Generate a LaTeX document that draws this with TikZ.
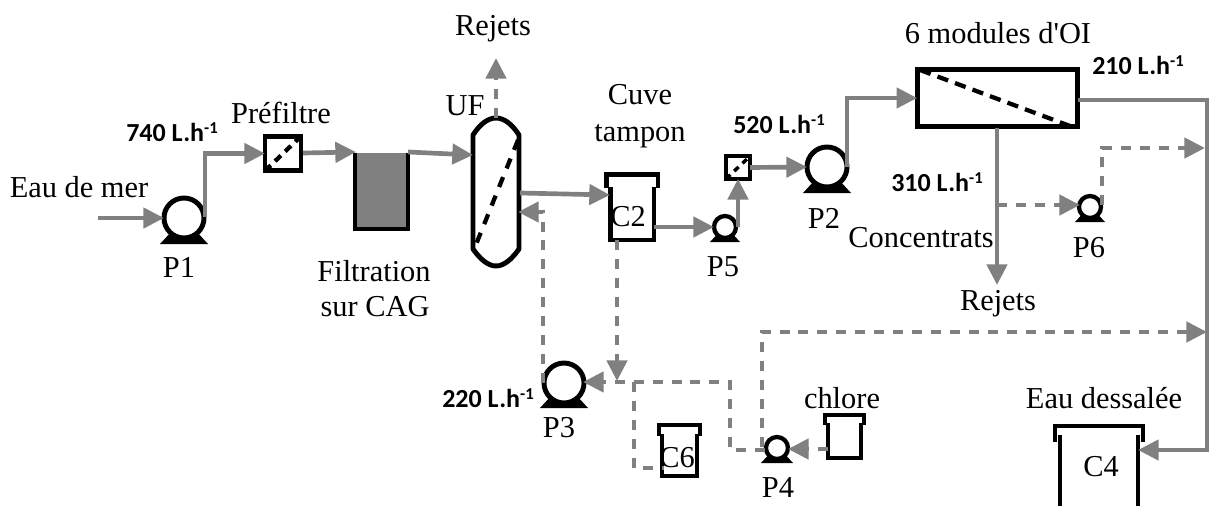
\documentclass[tikz,border=0pt]{standalone}
\usepackage{fontspec}
\setmainfont{Liberation Serif}
\newfontfamily\flowfont{Carlito}
\usetikzlibrary{arrows.meta}
\definecolor{flowgray}{HTML}{808080}
\newcommand\ratesup{\raisebox{0.62ex}{\fontsize{12.5}{13}\selectfont -1}}
\tikzset{
  lab/.style={font=\fontsize{22.8}{26}\selectfont,inner sep=0pt,outer sep=0pt},
  rate/.style={font=\flowfont\bfseries\fontsize{19.5}{24}\selectfont,inner sep=0pt,outer sep=0pt},
  blk/.style={draw=black,line width=3.7pt,line join=miter},
  bigpump/.style={circle,draw=black,fill=white,line width=3.7pt,minimum size=30pt,inner sep=0pt,outer sep=0pt},
  smallpump/.style={circle,draw=black,fill=white,line width=3.2pt,minimum size=16.5pt,inner sep=0pt,outer sep=0pt},
  boxnode/.style={rectangle,draw=black,line width=3.7pt,inner sep=0pt,outer sep=0pt},
  memb/.style={draw=black,line width=3.2pt,dash pattern=on 8pt off 5pt},
  flow/.style={draw=flowgray,line width=3.5pt,line join=miter},
  flowa/.style={flow,-{Triangle[length=15.5pt,width=15pt]}},
  dflow/.style={flow,dash pattern=on 7.5pt off 6.7pt},
  dflowa/.style={dflow,-{Triangle[length=15.5pt,width=15pt]}},
}
% name, x, y, half-width of the base, drop of the base, kind
\newcommand\mypump[6]{%
  \begin{scope}[shift={(#2,#3)}]
    \fill[black] (-#4,#5) -- (-#4+12,#5-13) -- (#4-12,#5-13) -- (#4,#5) -- cycle;
  \end{scope}
  \node[#6] (#1) at (#2,#3) {};
}
% name, x left wall, x right wall, y top of walls, y bottom, lid overhang, lid y, lip bottom y
\newcommand\mytank[8]{%
  \node[inner sep=0pt,outer sep=0pt,minimum width={(#3-#2)*0.75pt},minimum height={(#5-#4)*0.75pt}] (#1) at ({(#2+#3)/2},{(#4+#5)/2}) {};
  \draw[blk] (#1.north west) -- (#1.south west) -- (#1.south east) -- (#1.north east);
  \draw[blk] ({#2-#6},#8) -- ({#2-#6},#7) -- ({#3+#6},#7) -- ({#3+#6},#8);
}
\begin{document}
\begin{tikzpicture}[x=0.75pt,y=-0.75pt]
\useasboundingbox (0,0) rectangle (1209,506);

% --- equipment
\mypump{p1}{184}{218}{24}{26}{bigpump}
\mypump{p2}{827}{167}{24}{26}{bigpump}
\mypump{p3}{564}{383}{24}{25}{bigpump}
\mypump{p4}{777}{448}{16}{15}{smallpump}
\mypump{p5}{725}{227}{15}{15}{smallpump}
\mypump{p6}{1090}{207}{15}{15}{smallpump}

\node[boxnode,minimum width=27pt,minimum height=26pt] (pf) at (283,153.5) {};
\draw[memb,dash pattern=on 6pt off 4.5pt] (pf.south west) -- (pf.north east);
\node[boxnode,line width=2.8pt,minimum width=18pt,minimum height=17pt] (pf2) at (738,167.5) {};
\draw[memb,line width=2.6pt,dash pattern=on 4.5pt off 4pt] (pf2.south west) -- (pf2.north east);

\node[fill=flowgray,inner sep=0pt,outer sep=0pt,minimum width=39.75pt,minimum height=57pt] (cag) at (381.5,191) {};
\draw[blk] (cag.north west) -- (cag.south west) -- (cag.south east) -- (cag.north east);

\node[inner sep=0pt,outer sep=0pt,minimum width=34.5pt,minimum height=111pt] (uf) at (496,192) {};
\draw[blk,line join=round] (473,135) .. controls (480,124) and (488,118) .. (496,118)
   .. controls (504,118) and (512,124) .. (519,135) -- (519,249)
   .. controls (512,259) and (504,266) .. (496,266)
   .. controls (488,266) and (480,259) .. (473,249) -- cycle;
\coordinate (ufmem1) at (518,140);
\coordinate (ufmem2) at (475,247);
\draw[memb,dash pattern=on 8pt off 7pt] (ufmem1) -- (ufmem2);

\mytank{c2}{610.5}{654}{187}{240}{4}{174.5}{188}
\mytank{c6}{662}{697}{434}{476}{3}{425}{436}
\mytank{clt}{828}{861}{423}{458}{3}{415}{425}
\mytank{c4}{1060}{1138}{435}{520}{5}{426}{442}

\node[boxnode,minimum width=120.5pt,minimum height=43pt] (oi) at (997.5,98) {};
\coordinate (oimem1) at (920,70);
\coordinate (oimem2) at (1070,126);
\draw[memb,dash pattern=on 8.5pt off 5.5pt] (oimem1) -- (oimem2);

% --- free ends and bends
\coordinate (in) at (98,218);
\coordinate (ufin0) at (408,152);
\coordinate (ufin) at (473,155);
\coordinate (pfout) at (303,153);
\coordinate (cagin) at (356,152);
\coordinate (rejtop) at (496,58);
\coordinate (c2in0) at (520,193);
\coordinate (c2in) at (610,195);
\coordinate (c2out) at (654,227);
\coordinate (ufret) at (518,212);
\coordinate (ufretb) at (543,212);
\coordinate (p3l) at (543,383);
\coordinate (c2down) at (617,381);
\coordinate (p3jn) at (730,382);
\coordinate (p3tip) at (583,382);
\coordinate (p4in) at (730,450);
\coordinate (p4l) at (765,450);
\coordinate (c6j) at (634,382);
\coordinate (c6k) at (634,468);
\coordinate (c6e) at (664,468);
\coordinate (p4top) at (762,447);
\coordinate (lowb) at (762,332);
\coordinate (lowe) at (1207,332);
\coordinate (p5r) at (738,227);
\coordinate (p2r) at (847,167);
\coordinate (oiout) at (1078,100);
\coordinate (oicorner) at (1207,100);
\coordinate (c4cor) at (1207,450);
\coordinate (c4in) at (1138,450);
\coordinate (rej2) at (997,285);
\coordinate (oib) at (997,128);
\coordinate (brn) at (997,205);
\coordinate (p6l) at (1080,205);
\coordinate (p6r) at (1102,205);
\coordinate (p6e) at (1205,148);
\coordinate (clout) at (828,449);
\coordinate (p4r) at (788,449);
\coordinate (p1out) at (205,217);

% --- solid flows
\draw[flowa] (in) -- (p1.west);
\draw[flowa] (p1out) |- (pf.west);
\draw[flowa] (pfout) -- (cagin);
\draw[flowa] (ufin0) -- (ufin);
\draw[flowa] (c2in0) -- (c2in);
\draw[flowa] (c2out) -- (p5.west);
\draw[flowa] (p5r) -- (pf2.south);
\draw[flowa] (pf2.east) -- (p2.west);
\draw[flowa] (p2r) |- (oi.west);
\draw[flowa] (oiout) -- (oicorner) -- (c4cor) -- (c4in);
\draw[flowa] (oib) -- (rej2);

% --- dashed flows
\draw[dflowa] (uf.north) -- (rejtop);
\draw[dflowa] (p3l) -- (ufretb) -- (ufret);
\draw[dflowa] (c2.south -| c2down) -- (c2down);
\draw[dflowa] (p4l) -- (p4in) -- (p3jn) -- (p3tip);
\draw[dflow] (c6j) -- (c6k) -- (c6e);
\draw[dflowa] (p4top) -- (lowb) -- (lowe);
\draw[dflowa] (brn) -- (p6l);
\draw[dflowa] (p6r) |- (p6e);
\draw[dflowa] (clout) -- (p4r);

% --- labels
\node[lab] (t1) at (79,187) {Eau de mer};
\node[lab] (t2) at (179,267) {P1};
\node[lab] (t3) at (281,113) {Préfiltre};
\node[lab] (t4) at (374,271) {Filtration};
\node[lab] (t5) at (375,307) {sur CAG};
\node[lab] (t6) at (465,106) {UF};
\node[lab] (t7) at (493,29) {Rejets};
\node[lab] (t8) at (640,95) {Cuve};
\node[lab] (t9) at (640,136) {tampon};
\node[lab] (t10) at (628,217) {C2};
\node[lab] (t11) at (723,267) {P5};
\node[lab] (t12) at (824,218) {P2};
\node[lab] (t13) at (998,33) {6 modules d\textquotesingle OI};
\node[lab] (t14) at (921,238) {Concentrats};
\node[lab] (t15) at (1089,248) {P6};
\node[lab] (t16) at (998,304) {Rejets};
\node[lab] (t17) at (559,428) {P3};
\node[lab] (t18) at (842,398) {chlore};
\node[lab] (t19) at (677,458) {C6};
\node[lab] (t20) at (778,487) {P4};
\node[lab] (t21) at (1104,398) {Eau dessalée};
\node[lab] (t22) at (1101,467) {C4};

\node[rate] (r1) at (172,132) {740 L.h\ratesup};
\node[rate] (r2) at (779,124) {520 L.h\ratesup};
\node[rate] (r3) at (937,182) {310 L.h\ratesup};
\node[rate] (r4) at (1138,65) {210 L.h\ratesup};
\node[rate] (r5) at (488,398) {220 L.h\ratesup};
\end{tikzpicture}
\end{document}
